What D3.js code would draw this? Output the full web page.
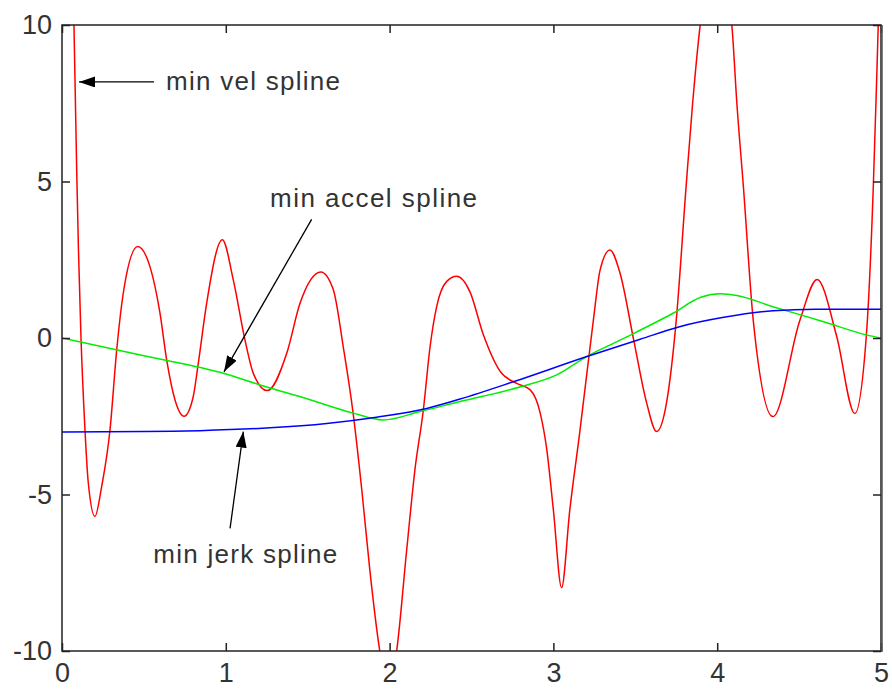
<!DOCTYPE html>
<html>
<head>
<meta charset="utf-8">
<script src="https://cdn.jsdelivr.net/npm/d3@7"></script>
<style>
  html, body { margin: 0; padding: 0; background: #fff; }
  svg { display: block; font-family: "Liberation Sans", Arial, sans-serif; }
</style>
</head>
<body>
<svg id="chart" width="892" height="689"></svg>
<script>
// ---- data ----
const xTicks = [0, 1, 2, 3, 4, 5];
const yTicks = [-10, -5, 0, 5, 10];
const xTickLabels = ["0", "1", "2", "3", "4", "5"];
const yTickLabels = ["-10", "-5", "0", "5", "10"];

// min vel spline (red)
const velX = [0, 0.04, 0.073, 0.09, 0.10, 0.116, 0.14, 0.16, 0.201, 0.242, 0.293, 0.334, 0.374, 0.462,
  0.537, 0.598, 0.639, 0.69, 0.745, 0.80, 0.832, 0.883, 0.979, 1.046, 1.117, 1.168, 1.253, 1.372, 1.453,
  1.58, 1.656, 1.717, 1.778, 1.83, 1.88, 1.94, 1.99, 2.043, 2.104, 2.155, 2.206, 2.247, 2.288, 2.349, 2.41,
  2.49, 2.572, 2.674, 2.776, 2.857, 2.918, 2.959, 3.0, 3.05, 3.10, 3.16, 3.244, 3.285, 3.345, 3.407, 3.49,
  3.57, 3.63, 3.69, 3.75, 3.81, 3.85, 3.895, 3.995, 4.09, 4.12, 4.16, 4.22, 4.34, 4.505, 4.61, 4.73, 4.84,
  4.91, 4.953, 4.974, 5.0];
const velY = [28, 17, 10, 5.3, 2.9, 0, -2.9, -4.6, -5.7, -4.75, -2.94, -0.38, 1.43, 2.92,
  2.28, 0.8, -0.7, -1.98, -2.5, -1.9, -0.81, 1.11, 3.14, 1.85, -0.06, -1.13, -1.68, -0.49, 1.11,
  2.11, 1.55, -0.28, -2.43, -4.84, -7.45, -10, -11.3, -10, -6.79, -4.19, -2.3, -0.28, 1.02, 1.81, 1.97,
  1.48, 0.11, -1.06, -1.45, -1.65, -2.37, -3.54, -5.5, -7.98, -5.5, -3.05, 0.57, 2.17, 2.81, 2.07, -0.06,
  -2.09, -2.99, -2.09, 0.57, 4.83, 7.5, 9.95, 12.7, 9.95, 7.5, 4.83, 0.57, -2.51, 0.57, 1.87, 0.04, -2.41,
  0.04, 4.83, 8.35, 13];

// min accel spline (green)
const accX = [0, 0.5, 1.0, 1.209, 1.5, 1.778, 1.96, 2.186, 2.43, 2.80, 3.02, 3.20, 3.41, 3.73,
  3.9, 4.02, 4.12, 4.34, 4.65, 4.91, 5.0];
const accY = [0, -0.57, -1.15, -1.5, -1.95, -2.4, -2.62, -2.35, -2.03, -1.56, -1.18, -0.6, -0.06, 0.79,
  1.3, 1.41, 1.36, 1.0, 0.52, 0.1, 0.0];

// min jerk spline (blue)
const jerkX = [0, 0.5, 0.84, 1.27, 1.616, 1.92, 2.226, 2.43, 2.755, 3.20, 3.53, 3.77, 4.04, 4.34, 4.6, 5.0];
const jerkY = [-3.0, -2.99, -2.96, -2.87, -2.73, -2.53, -2.25, -1.95, -1.40, -0.60, -0.04, 0.36, 0.66, 0.87, 0.92, 0.92];

// annotations in data units: label, text anchor point, arrow start, arrow tip
const annLabels = ["min vel spline", "min accel spline", "min jerk spline"];
const annText   = [[0.635, 7.92], [1.27, 4.19], [0.557, -7.18]];
const annFrom   = [[0.562, 8.18], [1.524, 3.79], [1.026, -6.08]];
const annTip    = [[0.104, 8.18], [0.989, -1.08], [1.107, -2.99]];
const annWidth  = [174, 207, 184];

// ---- layout ----
const svg = d3.select("#chart");
const L = 62, R = 881, T = 25, B = 651;
const x = d3.scaleLinear().domain([0, 5]).range([L, R]);
const y = d3.scaleLinear().domain([-10, 10]).range([B, T]);
const ink = "#222";
const fontSize = 27;

const defs = svg.append("defs");
defs.append("clipPath").attr("id", "plotclip")
  .append("rect").attr("x", L).attr("y", T).attr("width", R - L).attr("height", B - T);
defs.append("marker").attr("id", "arrow")
  .attr("viewBox", "0 0 16 11").attr("refX", 16).attr("refY", 5.5)
  .attr("markerWidth", 16).attr("markerHeight", 11).attr("markerUnits", "userSpaceOnUse")
  .attr("orient", "auto")
  .append("path").attr("d", "M0,0 L16,5.5 L0,11 Z").attr("fill", "#000");

// curves
const line = d3.line().x(d => x(d[0])).y(d => y(d[1])).curve(d3.curveMonotoneX);
const plot = svg.append("g").attr("clip-path", "url(#plotclip)");
const series = [
  { xs: velX, ys: velY, color: "#ff0000" },
  { xs: accX, ys: accY, color: "#00ee00" },
  { xs: jerkX, ys: jerkY, color: "#0000ff" }
];
series.forEach(s => {
  plot.append("path")
    .datum(s.xs.map((v, i) => [v, s.ys[i]]))
    .attr("d", line)
    .attr("fill", "none")
    .attr("stroke", s.color)
    .attr("stroke-width", 1.5)
    .attr("stroke-linejoin", "round");
});

// axes
function styleAxis(g, showLabels) {
  g.select(".domain").remove();
  g.selectAll(".tick line").attr("stroke", ink).attr("stroke-width", 1.5);
  g.selectAll(".tick text").attr("fill", "#333").attr("font-size", fontSize)
    .attr("font-family", "Liberation Sans, Arial, sans-serif");
  if (!showLabels) g.selectAll(".tick text").remove();
}
svg.append("g").attr("transform", `translate(0,${B})`)
  .call(d3.axisBottom(x).tickValues(xTicks).tickSize(-8).tickPadding(12)
    .tickFormat((d, i) => xTickLabels[i]))
  .call(g => styleAxis(g, true));
svg.append("g").attr("transform", `translate(0,${T})`)
  .call(d3.axisTop(x).tickValues(xTicks).tickSize(-8))
  .call(g => styleAxis(g, false));
svg.append("g").attr("transform", `translate(${L},0)`)
  .call(d3.axisLeft(y).tickValues(yTicks).tickSize(-8).tickPadding(10)
    .tickFormat((d, i) => yTickLabels[i]))
  .call(g => styleAxis(g, true));
svg.append("g").attr("transform", `translate(${R},0)`)
  .call(d3.axisRight(y).tickValues(yTicks).tickSize(-8))
  .call(g => styleAxis(g, false));

svg.append("rect").attr("x", L).attr("y", T).attr("width", R - L).attr("height", B - T)
  .attr("fill", "none").attr("stroke", ink).attr("stroke-width", 1.5);
svg.append("line").attr("x1", R + 1).attr("x2", R + 1).attr("y1", T).attr("y2", B + 1)
  .attr("stroke", "#555").attr("stroke-width", 1.5);

// annotations
annLabels.forEach((lab, i) => {
  svg.append("line")
    .attr("x1", x(annFrom[i][0])).attr("y1", y(annFrom[i][1]))
    .attr("x2", x(annTip[i][0])).attr("y2", y(annTip[i][1]))
    .attr("stroke", "#000").attr("stroke-width", 1.3)
    .attr("marker-end", "url(#arrow)");
  svg.append("text")
    .attr("x", x(annText[i][0])).attr("y", y(annText[i][1]))
    .attr("font-size", fontSize - 1).attr("fill", "#333")
    .attr("textLength", annWidth[i]).attr("lengthAdjust", "spacing")
    .text(lab);
});
</script>
</body>
</html>
